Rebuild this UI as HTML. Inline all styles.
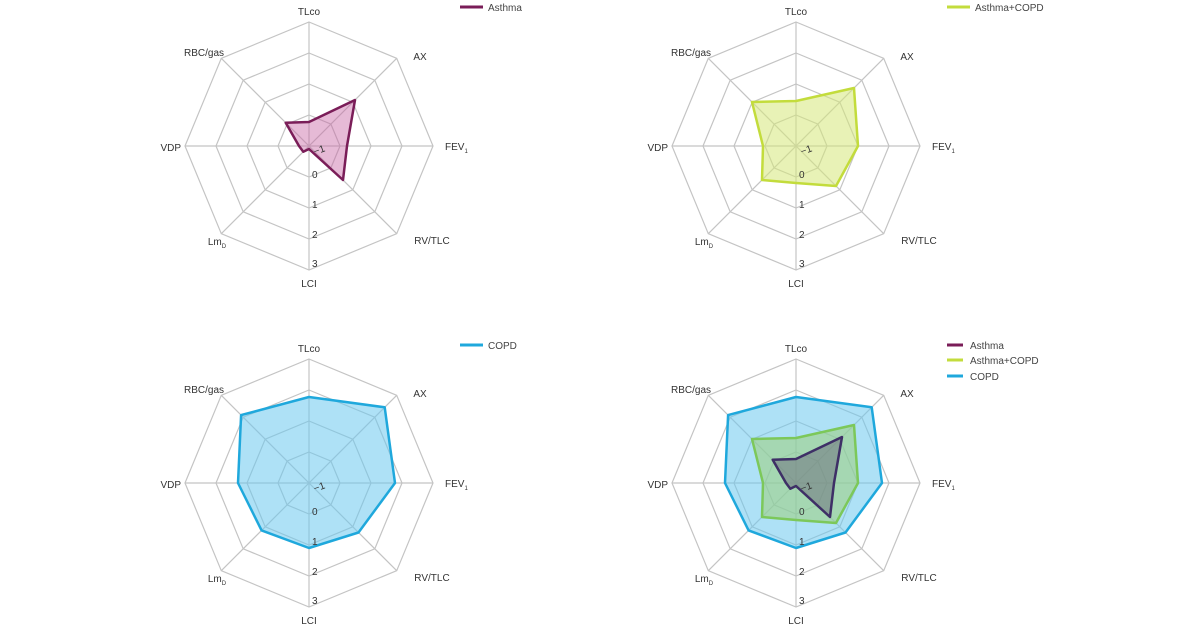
<!DOCTYPE html>
<html><head><meta charset="utf-8"><style>
body{margin:0;background:#fff;}
svg{display:block;font-family:"Liberation Sans",Arial,sans-serif;}
.ax text{font-size:10px;fill:#333;}
.t{font-size:10px;fill:#444;}
</style></head><body>
<svg width="1200" height="628" viewBox="0 0 1200 628" xmlns="http://www.w3.org/2000/svg">
<defs>
<g id="grid" fill="none" stroke="#c4c4c4" stroke-width="1.2">
<polygon points="0,-31 21.9,-21.9 31,0 21.9,21.9 0,31 -21.9,21.9 -31,0 -21.9,-21.9"/>
<polygon points="0,-62 43.8,-43.8 62,0 43.8,43.8 0,62 -43.8,43.8 -62,0 -43.8,-43.8"/>
<polygon points="0,-93 65.8,-65.8 93,0 65.8,65.8 0,93 -65.8,65.8 -93,0 -65.8,-65.8"/>
<polygon points="0,-124 87.7,-87.7 124,0 87.7,87.7 0,124 -87.7,87.7 -124,0 -87.7,-87.7"/>
<line x1="0" y1="-124" x2="0" y2="124"/><line x1="-124" y1="0" x2="124" y2="0"/>
<line x1="-87.7" y1="-87.7" x2="87.7" y2="87.7"/><line x1="-87.7" y1="87.7" x2="87.7" y2="-87.7"/>
</g>
<g id="labels" class="ax">
<text x="0" y="-131" text-anchor="middle">TLco</text>
<text x="111" y="-86" text-anchor="middle">AX</text>
<text x="136" y="4" text-anchor="start">FEV<tspan font-size="6" dy="3">1</tspan></text>
<text x="123" y="98" text-anchor="middle">RV/TLC</text>
<text x="0" y="141" text-anchor="middle">LCI</text>
<text x="-92" y="99" text-anchor="middle">Lm<tspan font-size="6" dy="3">D</tspan></text>
<text x="-128" y="5" text-anchor="end">VDP</text>
<text x="-105" y="-90" text-anchor="middle">RBC/gas</text>
<text x="3" y="32" class="t">0</text>
<text x="3" y="62" class="t">1</text>
<text x="3" y="92" class="t">2</text>
<text x="3" y="121" class="t">3</text>
<text x="6" y="9" class="t" transform="rotate(-20 6 9)">−1</text>
</g>
<polygon id="asthma" points="0,-24 46,-46 38,0 34,34 0,3 -5.7,5.7 -10,0 -23.3,-23.3"/>
<polygon id="ac" points="0,-45 58,-58 62,0 40,40 0,37 -34,34 -33,0 -44,-44"/>
<polygon id="copd" points="0,-86 75.7,-75.7 86,0 49.5,49.5 0,65 -47.4,47.4 -71,0 -67.9,-67.9"/>
</defs>

<!-- Top-left -->
<g transform="translate(309,146)">
<use href="#grid"/>
<use href="#asthma" fill="#c867a5" fill-opacity="0.45" stroke="#7a1d58" stroke-width="2.5" stroke-linejoin="round"/>
<use href="#labels"/>
</g>
<line x1="460" y1="7" x2="483" y2="7" stroke="#7a1d58" stroke-width="3"/>
<text x="488" y="11" class="t" fill="#333">Asthma</text>

<!-- Top-right -->
<g transform="translate(796,146)">
<use href="#grid"/>
<use href="#ac" fill="#d6e87a" fill-opacity="0.55" stroke="#c3dc3c" stroke-width="2.5" stroke-linejoin="round"/>
<use href="#labels"/>
</g>
<line x1="947" y1="7" x2="970" y2="7" stroke="#c3dc3c" stroke-width="3"/>
<text x="975" y="11" class="t">Asthma+COPD</text>

<!-- Bottom-left -->
<g transform="translate(309,483)">
<use href="#grid"/>
<use href="#copd" fill="#6cc8ee" fill-opacity="0.55" stroke="#1fa8dc" stroke-width="2.5" stroke-linejoin="round"/>
<use href="#labels"/>
</g>
<line x1="460" y1="345" x2="483" y2="345" stroke="#1fa8dc" stroke-width="3"/>
<text x="488" y="349" class="t">COPD</text>

<!-- Bottom-right -->
<g transform="translate(796,483)">
<use href="#grid"/>
<use href="#copd" fill="#6cc8ee" fill-opacity="0.55" stroke="#1fa8dc" stroke-width="2.5" stroke-linejoin="round"/>
<use href="#ac" fill="#9ed07a" fill-opacity="0.55" stroke="#7cc85a" stroke-width="2.5" stroke-linejoin="round"/>
<use href="#asthma" fill="#6a6a7a" fill-opacity="0.5" stroke="#3e2f66" stroke-width="2.5" stroke-linejoin="round"/>
<use href="#labels"/>
</g>
<line x1="947" y1="345" x2="963" y2="345" stroke="#7a1d58" stroke-width="3"/>
<text x="970" y="349" class="t">Asthma</text>
<line x1="947" y1="360" x2="963" y2="360" stroke="#c3dc3c" stroke-width="3"/>
<text x="970" y="364" class="t">Asthma+COPD</text>
<line x1="947" y1="376" x2="963" y2="376" stroke="#1fa8dc" stroke-width="3"/>
<text x="970" y="380" class="t">COPD</text>
</svg>
</body></html>
